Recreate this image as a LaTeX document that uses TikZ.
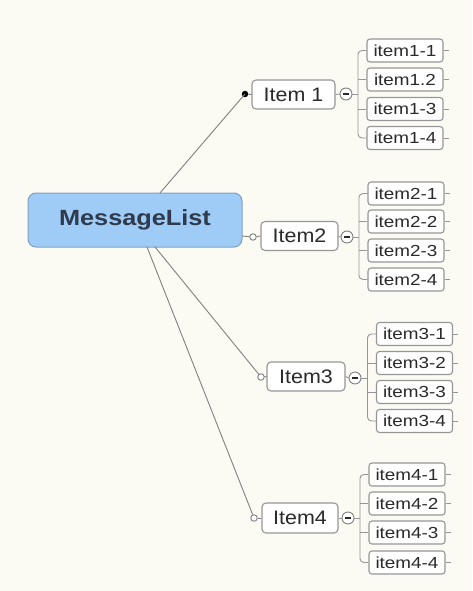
\documentclass[tikz,border=0pt]{standalone}
\usepackage{fontspec}
\setmainfont{Liberation Sans}
\newfontfamily\wfont[FakeStretch=1.18]{Liberation Sans}
\newfontfamily\ifont[FakeStretch=1.1]{Liberation Sans}
\newfontfamily\mfont[FakeStretch=1.15]{Liberation Sans}
\definecolor{bg}{HTML}{FBFBF4}
\definecolor{mlfill}{HTML}{9FCCF7}
\definecolor{mlborder}{HTML}{7F9FC2}
\definecolor{boxborder}{HTML}{969696}
\definecolor{linec}{HTML}{808080}
\definecolor{txt}{HTML}{2A2A2A}
\definecolor{mltxt}{HTML}{2F3B4C}
\begin{document}
\begin{tikzpicture}[x=1pt,y=-1pt,
  mlbox/.style={draw=mlborder,fill=mlfill,line width=1pt,rounded corners=8pt,minimum width=214pt,minimum height=54pt,inner sep=0pt,text=mltxt,font=\mfont\bfseries\fontsize{22}{24}\selectfont},
  itembox/.style={draw=boxborder,fill=white,line width=1.1pt,rounded corners=4pt,minimum height=29pt,inner sep=0pt,text=txt,font=\ifont\fontsize{19.5}{21}\selectfont},
  childbox/.style={draw=boxborder,fill=white,line width=1.1pt,rounded corners=3pt,minimum width=76pt,minimum height=23pt,inner sep=0pt,text=txt,font=\wfont\fontsize{16}{18}\selectfont},
  minus/.style={circle,draw=linec,fill=white,line width=0.9pt,minimum size=12pt,inner sep=0pt},
  conn/.style={draw=linec,line width=0.9pt},
  opendot/.style={circle,draw=linec,fill=white,line width=0.9pt,minimum size=6.5pt,inner sep=0pt},
  fulldot/.style={circle,fill=black,minimum size=6.5pt,inner sep=0pt},
  stub/.style={draw=boxborder,line width=0.9pt}
]
\fill[bg] (0,0) rectangle (472,591);
\useasboundingbox (0,0) rectangle (472,591);

% central node
\node[mlbox] (ML) at (135,220) {MessageList};

% items
\node[itembox,minimum width=83pt] (I1) at (293.5,94.5) {Item 1};
\node[itembox,minimum width=77pt] (I2) at (299.5,236) {Item2};
\node[itembox,minimum width=78pt] (I3) at (306,376.5) {Item3};
\node[itembox,minimum width=76pt,minimum height=30pt] (I4) at (300,518) {Item4};

% dots
\node[fulldot] (D1) at (245,94) {};
\node[opendot] (D2) at (253,237) {};
\node[opendot] (D3) at (261,377) {};
\node[opendot] (D4) at (254,518) {};

% start points on central node
\coordinate (S1) at (160,193);
\coordinate (S2) at (242,236);
\coordinate (S3) at (155,247);
\coordinate (S4) at (147,247);

\draw[conn] (S1) -- (D1.center);
\draw[conn] (D1) -- (I1.west);
\draw[conn] (S2) -- (D2);
\draw[conn] (D2) -- (I2.west);
\draw[conn] (S3) -- (D3);
\draw[conn] (D3) -- (I3.west);
\draw[conn] (S4) -- (D4);
\draw[conn] (D4) -- (I4.west);

% minus circles
\node[minus] (M1) at (346,94) {};
\node[minus] (M2) at (347,237) {};
\node[minus] (M3) at (355,378) {};
\node[minus] (M4) at (348,518) {};
\foreach \m in {M1,M2,M3,M4}{
  \draw[txt,line width=1.1pt] ([xshift=-2.8pt]\m.center) -- ([xshift=2.8pt]\m.center);
}
\draw[stub] (I1.east) -- (M1.west);
\draw[stub] (I2.east) -- (M2.west);
\draw[stub] (I3.east) -- (M3.west);
\draw[stub] (I4.east) -- (M4.west);

% children
\foreach \n/\x/\ya/\yb/\yc/\yd in {1/405/50.5/79.5/109/138, 2/406/193.5/221.5/250.5/279.5, 3/414.5/334/363/392/421, 4/407/474.5/503.5/532.5/562.5}{
  \node[childbox] (C\n a) at (\x,\ya) {item\n-1};
  \node[childbox] (C\n c) at (\x,\yc) {item\n-3};
  \node[childbox] (C\n d) at (\x,\yd) {item\n-4};
}
\node[childbox] (C1b) at (405,79.5) {item1.2};
\node[childbox] (C2b) at (406,221.5) {item2-2};
\node[childbox] (C3b) at (414.5,363) {item3-2};
\node[childbox] (C4b) at (407,503.5) {item4-2};

% brackets
\foreach \n in {1,2,3,4}{
  \coordinate (V\n) at ([xshift=-8.5pt]C\n a.west);
  \draw[stub,rounded corners=4pt] (C\n a.west) -- (V\n) |- (C\n d.west);
  \draw[stub] (C\n b.west) -- (C\n b.west -| V\n);
  \draw[stub] (C\n c.west) -- (C\n c.west -| V\n);
  \draw[stub] (M\n.east) -- (M\n.east -| V\n);
  \foreach \k in {a,b,c,d}{
    \draw[stub] (C\n\k.east) -- ++(5,0);
  }
}
\end{tikzpicture}
\end{document}
